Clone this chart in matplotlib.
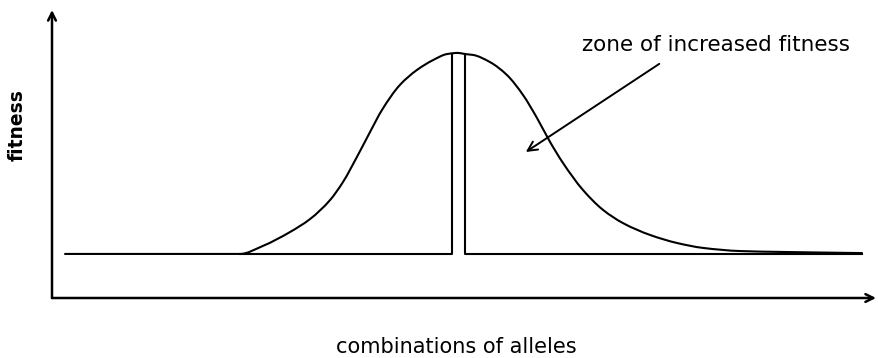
import matplotlib
matplotlib.use("Agg")
import matplotlib.pyplot as plt
from matplotlib.path import Path
from matplotlib.patches import PathPatch
import numpy as np

# combinations of alleles (0-100) and fitness (0-10)
curve_x = [1.58, 11.89, 22.82, 25.61, 28.88, 31.31, 33.74, 35.32, 37.01, 38.59, 40.05,
           42.23, 44.30, 46.24, 47.94, 49.27, 50.12, 51.09, 53.16, 55.22, 57.16,
           58.86, 60.44, 62.01, 64.44, 66.87, 69.30, 72.57, 75.85, 78.98, 83.50, 88.35, 98.30]
curve_y = [1.53, 1.53, 1.53, 1.81, 2.29, 2.74, 3.40, 4.03, 4.90, 5.76, 6.53,
           7.40, 7.92, 8.26, 8.47, 8.51, 8.47, 8.44, 8.19, 7.74, 7.05,
           6.25, 5.42, 4.69, 3.75, 3.06, 2.60, 2.19, 1.91, 1.74, 1.63, 1.60, 1.56]
baseline = 1.53
slot_left = 48.54
slot_right = 50.12
inner_start = 22.82
inner_end = 98.30

label_text = "zone of increased fitness"
label_pos = (80.6, 8.78)
arrow_tail = (73.7, 8.13)
arrow_head = (57.5, 5.07)


def smooth_path(xs, ys):
    """Monotone cubic (Fritsch-Carlson) curve through the points, as Bezier segments."""
    x = np.asarray(xs, float)
    y = np.asarray(ys, float)
    h = np.diff(x)
    d = np.diff(y) / h
    n = len(x)
    m = np.zeros(n)
    m[0], m[-1] = d[0], d[-1]
    for k in range(1, n - 1):
        if d[k - 1] * d[k] <= 0:
            m[k] = 0.0
        else:
            w1 = 2 * h[k] + h[k - 1]
            w2 = h[k] + 2 * h[k - 1]
            m[k] = (w1 + w2) / (w1 / d[k - 1] + w2 / d[k])
    verts = [(x[0], y[0])]
    codes = [Path.MOVETO]
    for k in range(n - 1):
        hk = h[k]
        verts += [(x[k] + hk / 3, y[k] + m[k] * hk / 3),
                  (x[k + 1] - hk / 3, y[k + 1] - m[k + 1] * hk / 3),
                  (x[k + 1], y[k + 1])]
        codes += [Path.CURVE4] * 3
    return Path(verts, codes)


fig = plt.figure(figsize=(8.79, 3.58), dpi=100)
ax = fig.add_axes([52/879, (358-298)/358, 824/879, 288/358])
ax.set_xlim(0, 100)
ax.set_ylim(0, 10)
for s in ax.spines.values():
    s.set_visible(False)
ax.set_xticks([])
ax.set_yticks([])

lw = 1.5
ax.add_patch(PathPatch(smooth_path(curve_x, curve_y), fill=False, edgecolor="black",
                       lw=lw, capstyle="round"))
top_l = np.interp(slot_left, curve_x, curve_y)
top_r = np.interp(slot_right, curve_x, curve_y)
ax.plot([inner_start, slot_left, slot_left], [baseline, baseline, top_l], color="black", lw=lw)
ax.plot([slot_right, slot_right, inner_end], [top_r, baseline, baseline], color="black", lw=lw)

# axes with arrows
ax.annotate("", xy=(0, 1.0), xytext=(0, 0), xycoords="axes fraction",
            arrowprops=dict(arrowstyle="->", lw=1.8, color="black", mutation_scale=14,
                            shrinkA=0, shrinkB=0))
ax.annotate("", xy=(1.0, 0), xytext=(0, 0), xycoords="axes fraction",
            arrowprops=dict(arrowstyle="->", lw=1.8, color="black", mutation_scale=14,
                            shrinkA=0, shrinkB=0))

ax.annotate("", xy=arrow_head, xytext=arrow_tail,
            arrowprops=dict(arrowstyle="->", lw=1.4, color="black", mutation_scale=17,
                            shrinkA=0, shrinkB=0))
ax.text(label_pos[0], label_pos[1], label_text, ha="center", va="center", fontsize=15.5,
        color="black")

fig.text(456/879, 1 - 347/358, "combinations of alleles", ha="center", va="center",
         fontsize=15, color="black")
fig.text(17/879, 1 - 125/358, "fitness", ha="center", va="center", rotation=90,
         fontsize=13.5, fontweight="bold", color="black")

fig.savefig("out.png", dpi=100)
